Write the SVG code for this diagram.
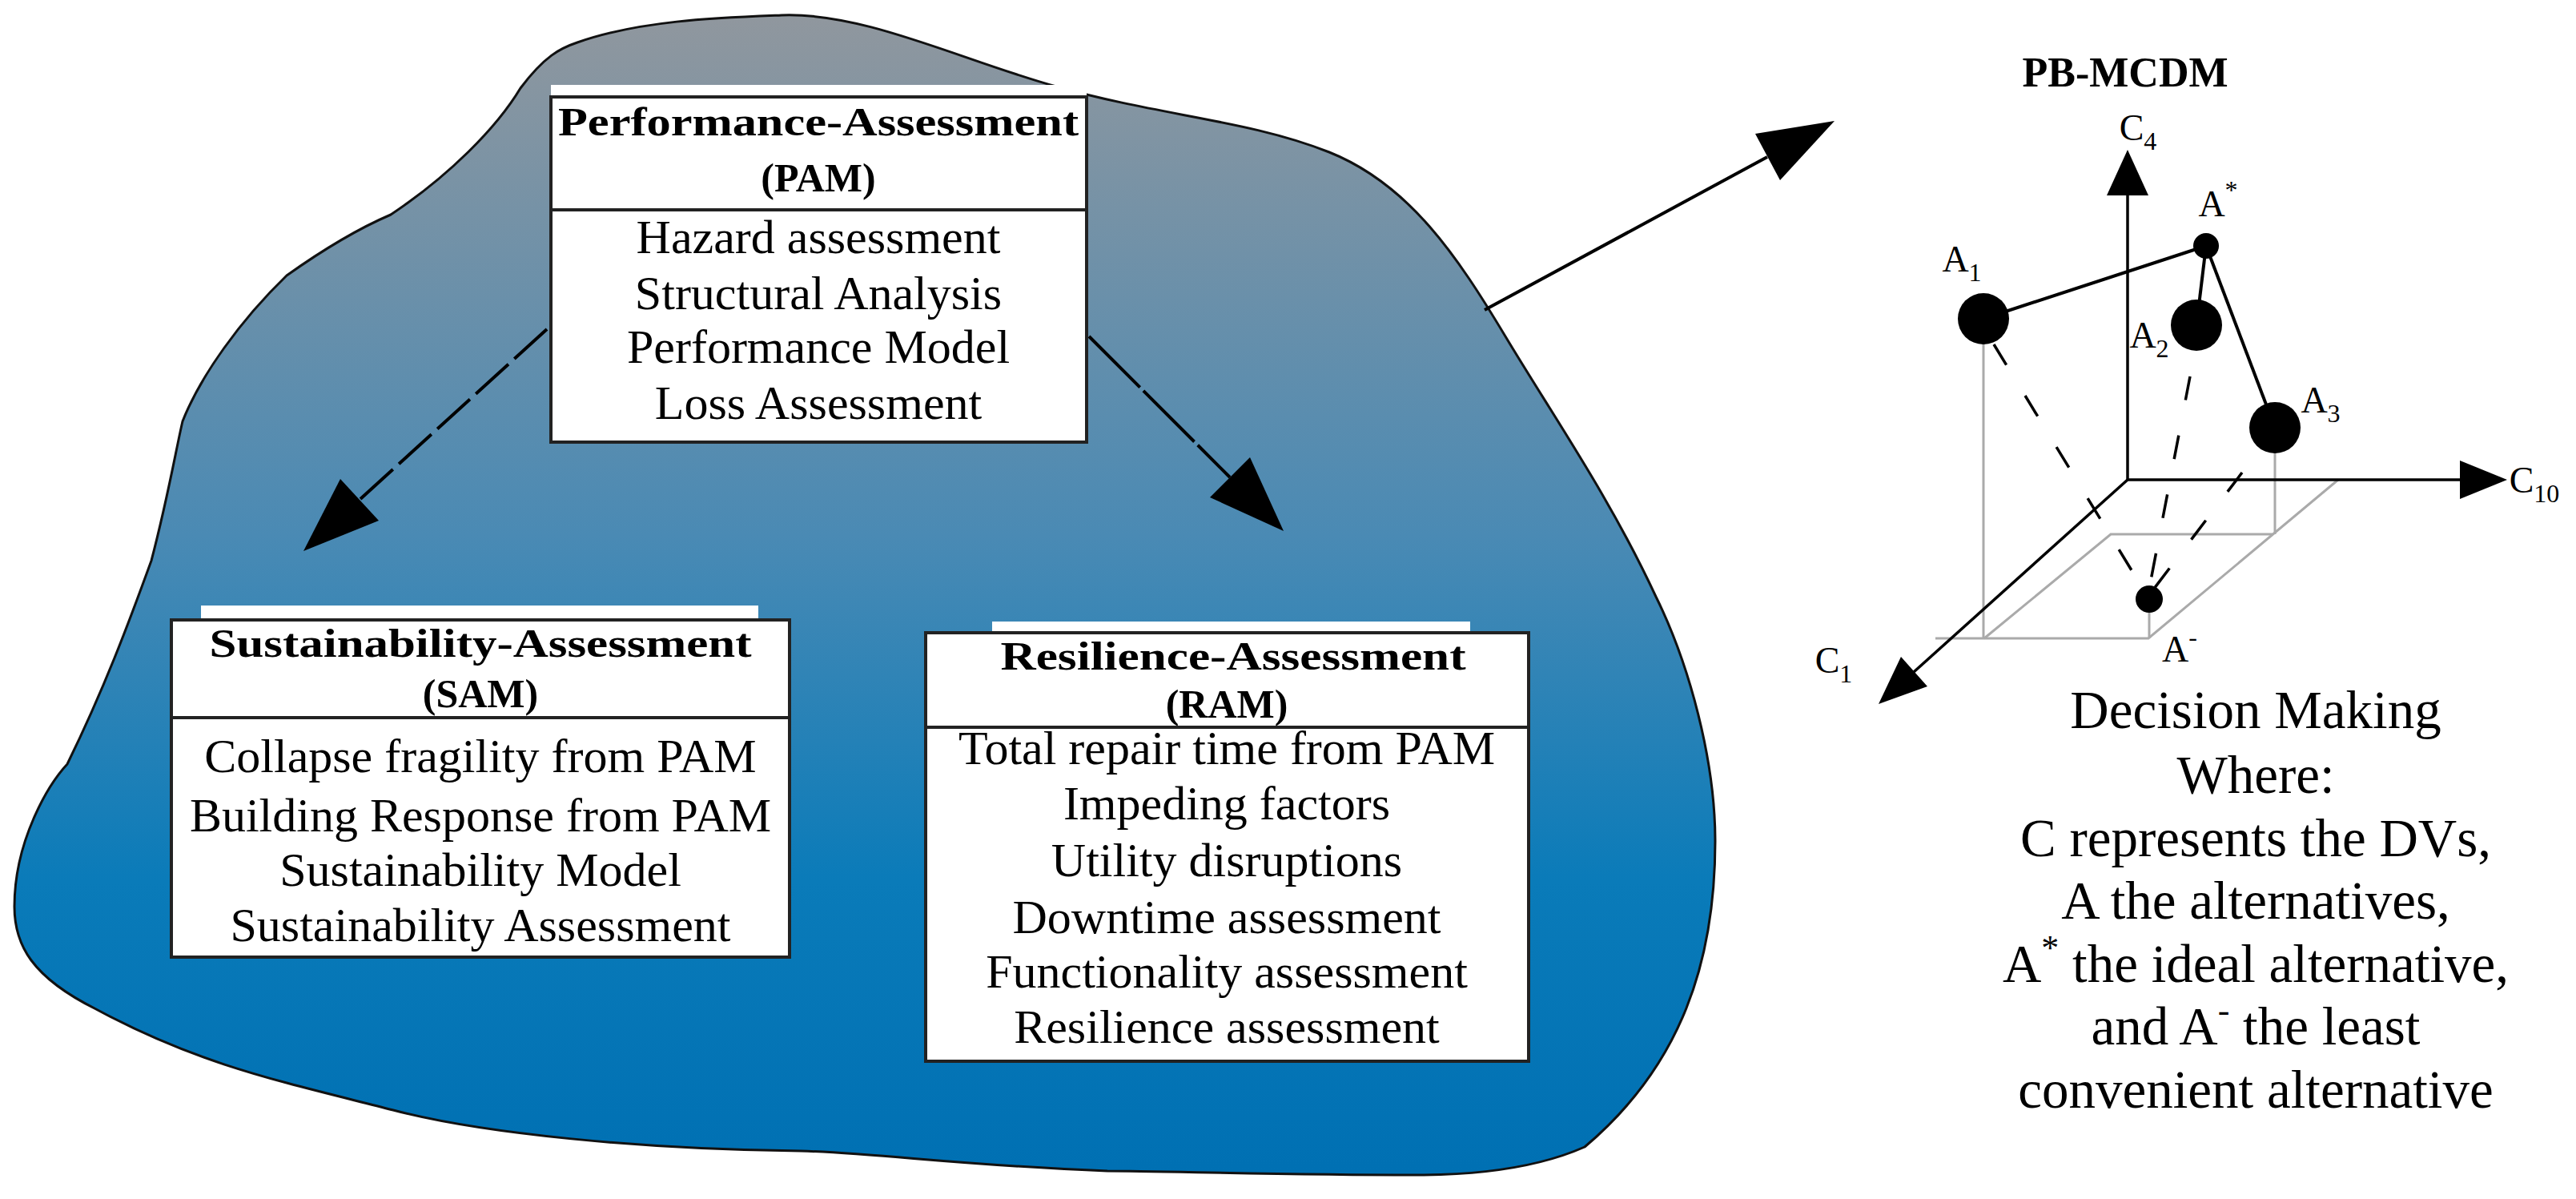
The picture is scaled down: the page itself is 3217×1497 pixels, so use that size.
<svg xmlns="http://www.w3.org/2000/svg" width="3217" height="1497" viewBox="0 0 3217 1497">
<style>
.t{font-family:"Liberation Serif","Times New Roman",serif;fill:#000;text-anchor:middle}
.b{font-weight:bold}
.box{fill:#fff;stroke:#222;stroke-width:4}
.div{stroke:#222;stroke-width:4}
.strip{fill:#fff}
.ln{stroke:#000;stroke-width:4;fill:none}
.gr{stroke:#aaa;stroke-width:3;fill:none}
.ax{stroke:#000;stroke-width:3.5;fill:none}
</style>
<defs>
<linearGradient id="g" gradientUnits="userSpaceOnUse" x1="0" y1="20" x2="0" y2="1460">
<stop offset="0" stop-color="#90979e"/>
<stop offset="0.45" stop-color="#4a8ab4"/>
<stop offset="0.75" stop-color="#0a7bb9"/>
<stop offset="1" stop-color="#0070b3"/>
</linearGradient>
</defs>
<rect width="3217" height="1497" fill="#fff"/>
<g id="blob">
<path d="M 976,19 C 1080,15 1200,75 1319,108 C 1450,145 1560,150 1660,190 C 1760,230 1820,320 1880,420 C 1940,520 2010,620 2068,745 C 2110,830 2142,950 2142,1050 C 2142,1200 2100,1330 1979,1432 C 1900,1467 1800,1467 1766,1467 C 1600,1467 1450,1462 1383,1462 C 1200,1455 1100,1440 1000,1437 C 800,1435 600,1415 491,1386 C 350,1350 250,1330 120,1260 C 40,1220 18,1180 18,1132 C 18,1050 60,980 84,954 C 130,860 160,780 189,700 C 210,620 220,560 228,526 C 250,470 300,400 358,344 C 420,300 460,280 488,268 C 560,220 620,160 650,110 C 680,70 700,60 721,53 C 800,25 900,22 976,19 Z" fill="url(#g)" stroke="#111" stroke-width="3"/>
</g>
<g id="connectors">
<line class="ln" x1="683" y1="411" x2="449" y2="624" stroke-dasharray="55 10"/>
<polygon points="379,688 473,650 425,598"/>
<line class="ln" x1="1360" y1="420" x2="1536" y2="596" stroke-dasharray="90 6"/>
<polygon points="1603,663 1511,621 1561,571"/>
<line class="ln" x1="1854" y1="387" x2="2207" y2="196"/>
<polygon points="2291,151 2223,225 2192,167"/>
</g>
<g id="pam">
<rect class="strip" x="688" y="106" width="669" height="16"/>
<rect class="box" x="688" y="121" width="669" height="431"/>
<line class="div" x1="688" y1="262" x2="1357" y2="262"/>
<text class="t b" x="1022" y="169" font-size="50" textLength="650" lengthAdjust="spacingAndGlyphs">Performance-Assessment</text>
<text class="t b" x="1022" y="239" font-size="50">(PAM)</text>
<text class="t" x="1022" y="316" font-size="60">Hazard assessment</text>
<text class="t" x="1022" y="386" font-size="60">Structural Analysis</text>
<text class="t" x="1022" y="453" font-size="60">Performance Model</text>
<text class="t" x="1022" y="523" font-size="60">Loss Assessment</text>
</g>
<g id="sam">
<rect class="strip" x="251" y="756" width="696" height="20"/>
<rect class="box" x="214" y="774" width="772" height="421"/>
<line class="div" x1="214" y1="896" x2="986" y2="896"/>
<text class="t b" x="600" y="820" font-size="50" textLength="677" lengthAdjust="spacingAndGlyphs">Sustainability-Assessment</text>
<text class="t b" x="600" y="883" font-size="50">(SAM)</text>
<text class="t" x="600" y="964" font-size="60">Collapse fragility from PAM</text>
<text class="t" x="600" y="1038" font-size="60">Building Response from PAM</text>
<text class="t" x="600" y="1106" font-size="60">Sustainability Model</text>
<text class="t" x="600" y="1175" font-size="60">Sustainability Assessment</text>
</g>
<g id="ram">
<rect class="strip" x="1239" y="776" width="597" height="16"/>
<rect class="box" x="1156" y="790" width="753" height="535"/>
<line class="div" x1="1156" y1="908" x2="1909" y2="908"/>
<text class="t b" x="1540" y="836" font-size="50" textLength="581" lengthAdjust="spacingAndGlyphs">Resilience-Assessment</text>
<text class="t b" x="1532" y="896" font-size="50">(RAM)</text>
<text class="t" x="1532" y="954" font-size="60">Total repair time from PAM</text>
<text class="t" x="1532" y="1023" font-size="60">Impeding factors</text>
<text class="t" x="1532" y="1094" font-size="60">Utility disruptions</text>
<text class="t" x="1532" y="1165" font-size="60">Downtime assessment</text>
<text class="t" x="1532" y="1233" font-size="60">Functionality assessment</text>
<text class="t" x="1532" y="1302" font-size="60">Resilience assessment</text>
</g>
<g id="pbmcdm">
<text class="t b" x="2654" y="108" font-size="52">PB-MCDM</text>
<polyline class="gr" points="2920,599 2683,797 2417,797"/>
<polyline class="gr" points="2478,797 2636,667 2838,667"/>
<line class="gr" x1="2477" y1="398" x2="2477" y2="797"/>
<line class="gr" x1="2841" y1="534" x2="2841" y2="667"/>
<line class="gr" x1="2684" y1="748" x2="2684" y2="797"/>
<line class="ax" x1="2657" y1="599" x2="2657" y2="244"/>
<polygon points="2657,187 2631,244 2683,244"/>
<line class="ax" x1="2657" y1="599" x2="3072" y2="599"/>
<polygon points="3131,599 3072,575 3072,623"/>
<line class="ax" x1="2657" y1="599" x2="2390" y2="839"/>
<polygon points="2346,879 2407,857 2374,820"/>
<g stroke="#000" stroke-width="3.5" stroke-dasharray="30 45" fill="none">
<line x1="2490" y1="430" x2="2676" y2="735"/>
<line x1="2735" y1="470" x2="2684" y2="735"/>
<line x1="2800" y1="590" x2="2690" y2="735"/>
</g>
<line class="ln" x1="2477" y1="398" x2="2755" y2="307"/>
<line class="ln" x1="2755" y1="307" x2="2743" y2="406"/>
<line class="ln" x1="2755" y1="307" x2="2841" y2="534"/>
<circle cx="2755" cy="307" r="16"/>
<circle cx="2477" cy="398" r="32"/>
<circle cx="2743" cy="406" r="32"/>
<circle cx="2841" cy="534" r="32"/>
<circle cx="2684" cy="748" r="17"/>
<g font-size="46">
<text class="t" x="2670" y="175">C<tspan font-size="32" dy="12">4</tspan></text>
<text class="t" x="3165" y="615">C<tspan font-size="32" dy="12">10</tspan></text>
<text class="t" x="2290" y="840">C<tspan font-size="32" dy="12">1</tspan></text>
<text class="t" x="2450" y="339">A<tspan font-size="32" dy="12">1</tspan></text>
<text class="t" x="2684" y="434">A<tspan font-size="32" dy="12">2</tspan></text>
<text class="t" x="2898" y="515">A<tspan font-size="32" dy="12">3</tspan></text>
<text class="t" x="2770" y="270">A<tspan font-size="32" dy="-22">*</tspan></text>
<text class="t" x="2722" y="826">A<tspan font-size="32" dy="-20">-</tspan></text>
</g>
<g font-size="67">
<text class="t" x="2817" y="909">Decision Making</text>
<text class="t" x="2817" y="990">Where:</text>
<text class="t" x="2817" y="1069">C represents the DVs,</text>
<text class="t" x="2817" y="1147">A the alternatives,</text>
<text class="t" x="2817" y="1226">A<tspan font-size="44" dy="-28">*</tspan><tspan dy="28"> the ideal alternative,</tspan></text>
<text class="t" x="2817" y="1304">and A<tspan font-size="44" dy="-28">-</tspan><tspan dy="28"> the least</tspan></text>
<text class="t" x="2817" y="1383">convenient alternative</text>
</g>
</g>
</svg>
